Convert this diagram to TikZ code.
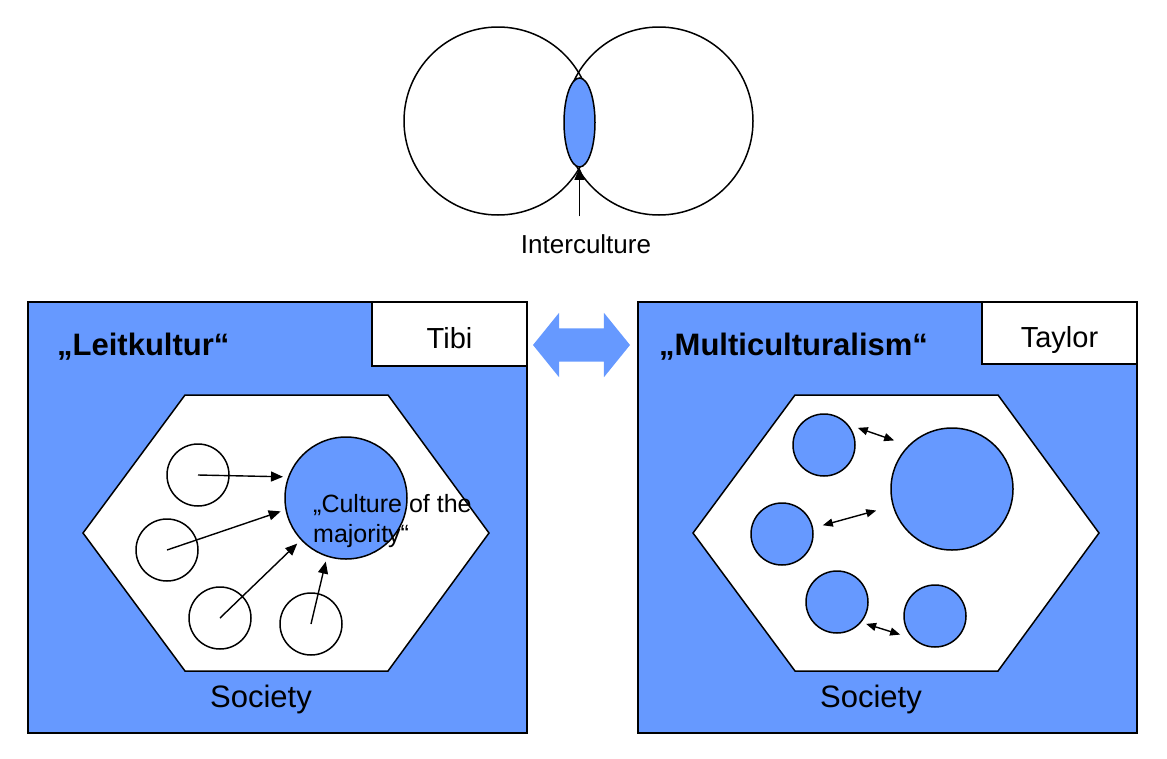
\documentclass[tikz,border=0pt]{standalone}
\usepackage{fontspec}
\setmainfont{Liberation Sans}
\usetikzlibrary{arrows.meta, positioning, shapes.geometric, shapes.arrows, calc}
\definecolor{culture}{RGB}{102,153,255}
\tikzset{
  panel/.style={rectangle, draw=black, fill=culture, line width=1.5pt,
                minimum width=499pt, minimum height=431pt, inner sep=0pt},
  namebox/.style={rectangle, draw=black, fill=white, line width=1.5pt,
                  minimum width=155pt, minimum height=64pt, inner sep=0pt,
                  text height=28pt, text depth=0pt,
                  font=\fontsize{29}{33}\selectfont},
  hexbox/.style={draw=black, fill=white, line width=1.5pt},
  ring/.style={circle, draw=black, line width=1.5pt, minimum size=188pt, inner sep=0pt},
  overlap/.style={ellipse, draw=black, fill=culture, line width=1.5pt,
                  minimum width=31pt, minimum height=89pt, inner sep=0pt},
  grp/.style={circle, draw=black, line width=1.5pt, minimum size=62pt, inner sep=0pt},
  majority/.style={circle, draw=black, fill=culture, line width=1.5pt,
                   minimum size=122pt, inner sep=0pt},
  arr/.style={-{Triangle[length=12pt, width=10pt]}, line width=1.4pt, black},
  darr/.style={{Triangle[length=10pt, width=8pt]}-{Triangle[length=10pt, width=8pt]},
               line width=1.4pt, black},
  swaparrow/.style={double arrow, fill=culture, draw=none, inner sep=16.5pt,
                    double arrow head extend=15.5pt, double arrow tip angle=102,
                    minimum height=97pt},
  lbl/.style={inner sep=0pt, font=\fontsize{31}{36}\selectfont},
  ttl/.style={inner sep=0pt, font=\fontsize{31}{36}\selectfont\bfseries},
}
\begin{document}
\begin{tikzpicture}[x=1pt, y=-1pt]
  \useasboundingbox (0,0) rectangle (1167,758);
  %% Interculture
  \node[ring] (own)   at (498,121) {};
  \node[ring] (other) at (659,121) {};
  \node[overlap] (inter) at (579.5,122.5) {};
  \node[lbl, font=\fontsize{26}{30}\selectfont] (interlbl) at (586,244) {Interculture};
  \draw[arr, shorten <=18pt] (inter.south |- interlbl.north) -- (inter.south);
  %% Leitkultur
  \node[panel] (leit) at (277.5,517.5) {};
  \node[namebox, anchor=north east] (tibi) at (leit.north east) {Tibi};
  \node[ttl, anchor=west] (leittitle) at (57,347) {„Leitkultur“};
  %% Multiculturalism
  \node[panel] (multi) at (887.5,517.5) {};
  \node[namebox, anchor=north east, minimum height=62pt] (taylor) at (multi.north east) {Taylor};
  \node[ttl, anchor=west] (multititle) at (659,347) {„Multiculturalism“};
  \node[swaparrow] (swap) at (581.5,345) {};
  %% society hexagons
  \foreach \dx in {0,610}
    \draw[hexbox, xshift=\dx] (185,395) -- (388,395) -- (489,533) -- (388,671)
      -- (185,671) -- (83,533) -- cycle;
  \node[lbl] (leitsoc)  at (261,699) {Society};
  \node[lbl] (multisoc) at (871,699) {Society};
  %% assimilation to the majority
  \node[grp] (g1) at (198,475) {};
  \node[grp] (g2) at (167,550) {};
  \node[grp] (g3) at (220,618) {};
  \node[grp] (g4) at (311,624) {};
  \node[majority] (maj) at (346,498) {};
  \foreach \g/\a in {g1/160,g2/191,g3/223,g4/252}
    \draw[arr, shorten >=5pt] (\g.center) -- (maj.\a);
  \node[lbl, font=\fontsize{25}{30}\selectfont, align=left, anchor=west]
    (majlbl) at (313,521) {„Culture of the\\majority“};
  %% groups side by side
  \node[grp, fill=culture] (m1) at (824,445) {};
  \node[grp, fill=culture] (m2) at (782,534) {};
  \node[grp, fill=culture] (m3) at (837,602) {};
  \node[grp, fill=culture] (m4) at (935,616) {};
  \node[majority] (mmaj) at (952,489) {};
  \draw[darr, shorten <=10pt, shorten >=15pt] (m1.40) -- (mmaj.135);
  \draw[darr, shorten <=10pt, shorten >=17pt] (m2.11) -- (mmaj.196);
  \draw[darr, shorten <=5pt, shorten >=13pt] (m3.320) -- (m4.225);
\end{tikzpicture}
\end{document}
